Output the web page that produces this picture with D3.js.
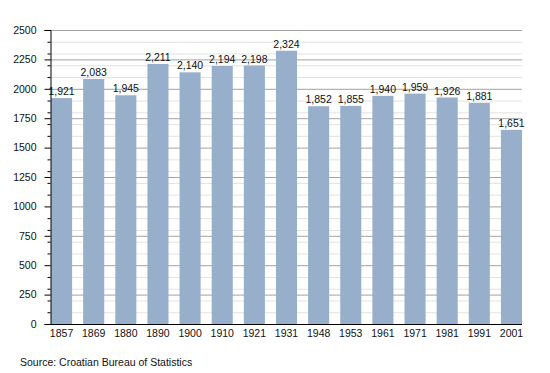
<!DOCTYPE html>
<html>
<head>
<meta charset="utf-8">
<title>Population</title>
<style>
  body { margin: 0; background: #fff; }
  svg text { font-family: "Liberation Sans", Arial, Helvetica, sans-serif; fill: #111; }
</style>
<script src="https://d3js.org/d3.v7.min.js"></script>
</head>
<body>
<svg id="chart" width="550" height="373"></svg>
<script>
var years = ["1857", "1869", "1880", "1890", "1900", "1910", "1921", "1931", "1948", "1953", "1961", "1971", "1981", "1991", "2001"];
var population = [1921, 2083, 1945, 2211, 2140, 2194, 2198, 2324, 1852, 1855, 1940, 1959, 1926, 1881, 1651];
var majorTicks = [0, 250, 500, 750, 1000, 1250, 1500, 1750, 2000, 2250, 2500];
var minorTicks = d3.range(0, 2501, 100);
var source = "Source: Croatian Bureau of Statistics";

var svg = d3.select("#chart");
var plotLeft = 50, plotRight = 522, plotTop = 30, plotBottom = 324;

var x = d3.scaleBand().domain(years).range([plotLeft + 1, plotRight]).paddingInner(0.344).paddingOuter(0);
var y = d3.scaleLinear().domain([0, 2500]).range([plotBottom, plotTop]);

var fmt = d3.format(",");

// minor grid
svg.append("g").selectAll("line")
  .data(minorTicks.filter(function(d) { return d % 250 !== 0; }))
  .enter().append("line")
  .attr("x1", plotLeft).attr("x2", plotRight)
  .attr("y1", function(d) { return y(d) + 0.5; })
  .attr("y2", function(d) { return y(d) + 0.5; })
  .attr("stroke", "#e2e2e2");

// major grid
svg.append("g").selectAll("line")
  .data(majorTicks.filter(function(d) { return d > 0; }))
  .enter().append("line")
  .attr("x1", plotLeft).attr("x2", plotRight)
  .attr("y1", function(d) { return y(d) + 0.5; })
  .attr("y2", function(d) { return y(d) + 0.5; })
  .attr("stroke", "#a2a2a2");

// bars
svg.append("g").selectAll("rect")
  .data(population)
  .enter().append("rect")
  .attr("x", function(d, i) { return x(years[i]); })
  .attr("width", x.bandwidth())
  .attr("y", function(d) { return y(d); })
  .attr("height", function(d) { return plotBottom - y(d); })
  .attr("fill", "#97afcb");

// value labels
svg.append("g").selectAll("text")
  .data(population)
  .enter().append("text")
  .attr("x", function(d, i) { return x(years[i]) + x.bandwidth() / 2; })
  .attr("y", function(d) { return y(d) - 3; })
  .attr("text-anchor", "middle")
  .attr("font-size", "10.5px")
  .text(function(d) { return fmt(d); });

// y axis
var yAxis = d3.axisLeft(y).tickValues(majorTicks).tickSize(6).tickPadding(8).tickFormat(d3.format("d"));
var gy = svg.append("g").attr("transform", "translate(" + (plotLeft + 0.5) + ",0)").call(yAxis);
gy.select(".domain").attr("stroke", "#000");
gy.selectAll(".tick line").attr("stroke", "#000");
gy.selectAll(".tick text").attr("font-size", "10.5px").attr("fill", "#111").attr("font-family", null);

var yMinor = d3.axisLeft(y).tickValues(minorTicks.filter(function(d) { return d % 250 !== 0; })).tickSize(3).tickFormat("");
var gym = svg.append("g").attr("transform", "translate(" + (plotLeft + 0.5) + ",0)").call(yMinor);
gym.select(".domain").remove();
gym.selectAll(".tick line").attr("stroke", "#000");

// x axis
var xAxis = d3.axisBottom(x).tickSize(0).tickPadding(5);
var gx = svg.append("g").attr("transform", "translate(0," + (plotBottom + 0.5) + ")").call(xAxis);
gx.select(".domain").attr("d", "M" + plotLeft + ",0H" + plotRight).attr("stroke", "#000").attr("stroke-width", 1.2);
gx.selectAll(".tick text").attr("font-size", "10.5px").attr("fill", "#111").attr("font-family", null);

svg.append("text")
  .attr("x", 20).attr("y", 366)
  .attr("font-size", "10.5px")
  .text(source);
</script>
</body>
</html>
